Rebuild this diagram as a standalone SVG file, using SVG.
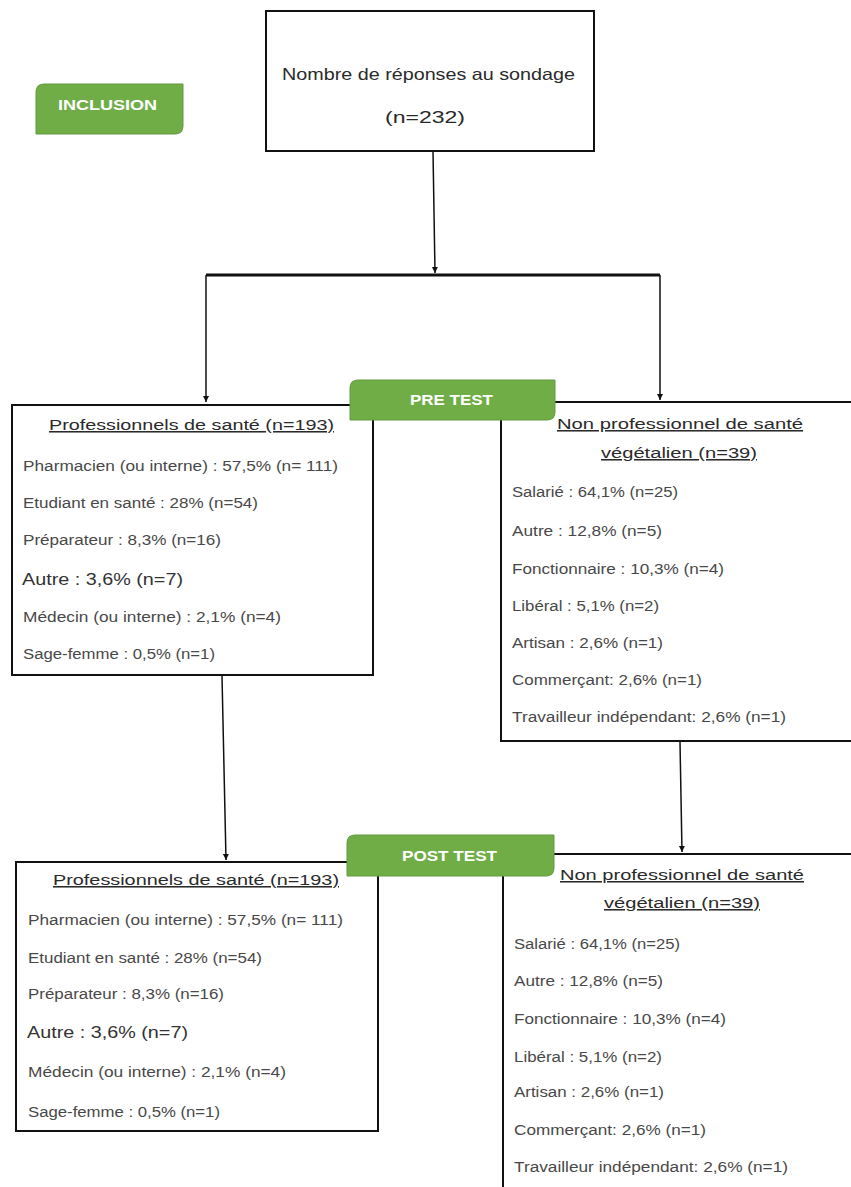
<svg xmlns="http://www.w3.org/2000/svg" width="851" height="1187" viewBox="0 0 851 1187">
<style>
.box{fill:#fff;stroke:#111;stroke-width:2}
.badge{fill:#70AD47;stroke:#639a3e;stroke-width:1}
.bt{font-family:"Liberation Sans",Arial,sans-serif;font-weight:bold;fill:#fff;font-size:14.5px}
.tt{font-family:"Liberation Sans",Arial,sans-serif;fill:#2a2a2a;font-size:16.5px}
.hd{font-family:"Liberation Sans",Arial,sans-serif;fill:#2a2a2a;font-size:15.5px;text-decoration:underline}
.it{font-family:"Liberation Sans",Arial,sans-serif;fill:#484848;font-size:14px}
.big{font-size:16.5px;fill:#333}
.ln{fill:none;stroke:#111;stroke-width:1.5}
</style>
<defs>
<marker id="ah" markerWidth="8" markerHeight="8" refX="6" refY="4" orient="auto" markerUnits="userSpaceOnUse">
<path d="M0,1 L6,4 L0,7 Z" fill="#111"/>
</marker>
</defs>
<rect width="851" height="1187" fill="#fff"/>

<g id="connectors">
<line class="ln" x1="433" y1="151" x2="435" y2="273" marker-end="url(#ah)"/>
<line x1="206" y1="275" x2="660" y2="275" stroke="#111" stroke-width="3"/>
<line class="ln" x1="206" y1="275" x2="206" y2="402" marker-end="url(#ah)"/>
<line class="ln" x1="660" y1="275" x2="660" y2="400" marker-end="url(#ah)"/>
<line class="ln" x1="222" y1="676" x2="226" y2="860" marker-end="url(#ah)"/>
<line class="ln" x1="680" y1="742" x2="682" y2="852" marker-end="url(#ah)"/>
</g>

<g id="inclusion">
<path class="badge" d="M44,84 H183 V126 Q183,134 175,134 H36 V92 Q36,84 44,84 Z"/>
<text class="bt" x="58" y="110" textLength="99" lengthAdjust="spacingAndGlyphs">INCLUSION</text>
</g>

<g id="total">
<rect class="box" x="266" y="11" width="328" height="140"/>
<text class="tt" x="282" y="80" textLength="293" lengthAdjust="spacingAndGlyphs">Nombre de réponses au sondage</text>
<text class="tt" x="385" y="123" textLength="80" lengthAdjust="spacingAndGlyphs">(n=232)</text>
</g>

<g id="pre-pro">
<rect class="box" x="12" y="405" width="361" height="270"/>
<text class="hd" x="49" y="430" textLength="285" lengthAdjust="spacingAndGlyphs">Professionnels de santé (n=193)</text>
<text class="it" x="23" y="471" textLength="315" lengthAdjust="spacingAndGlyphs">Pharmacien (ou interne) : 57,5% (n= 111)</text>
<text class="it" x="23" y="508" textLength="235" lengthAdjust="spacingAndGlyphs">Etudiant en santé : 28% (n=54)</text>
<text class="it" x="23" y="545" textLength="198" lengthAdjust="spacingAndGlyphs">Préparateur : 8,3% (n=16)</text>
<text class="it big" x="22" y="585" textLength="161" lengthAdjust="spacingAndGlyphs">Autre : 3,6% (n=7)</text>
<text class="it" x="23" y="622" textLength="258" lengthAdjust="spacingAndGlyphs">Médecin (ou interne) : 2,1% (n=4)</text>
<text class="it" x="23" y="659" textLength="192" lengthAdjust="spacingAndGlyphs">Sage-femme : 0,5% (n=1)</text>
</g>

<g id="pre-nonpro">
<rect class="box" x="501" y="402" width="360" height="339"/>
<text class="hd" x="557" y="429" textLength="246" lengthAdjust="spacingAndGlyphs">Non professionnel de santé</text>
<text class="hd" x="601" y="458" textLength="156" lengthAdjust="spacingAndGlyphs">végétalien (n=39)</text>
<text class="it" x="512" y="497" textLength="166" lengthAdjust="spacingAndGlyphs">Salarié : 64,1% (n=25)</text>
<text class="it" x="512" y="536" textLength="150" lengthAdjust="spacingAndGlyphs">Autre : 12,8% (n=5)</text>
<text class="it" x="512" y="574" textLength="212" lengthAdjust="spacingAndGlyphs">Fonctionnaire : 10,3% (n=4)</text>
<text class="it" x="512" y="611" textLength="147" lengthAdjust="spacingAndGlyphs">Libéral : 5,1% (n=2)</text>
<text class="it" x="512" y="648" textLength="151" lengthAdjust="spacingAndGlyphs">Artisan : 2,6% (n=1)</text>
<text class="it" x="512" y="685" textLength="190" lengthAdjust="spacingAndGlyphs">Commerçant: 2,6% (n=1)</text>
<text class="it" x="512" y="722" textLength="274" lengthAdjust="spacingAndGlyphs">Travailleur indépendant: 2,6% (n=1)</text>
</g>

<g id="pretest">
<path class="badge" d="M358,380 H555 V412 Q555,420 547,420 H350 V388 Q350,380 358,380 Z"/>
<text class="bt" x="410" y="405" textLength="83" lengthAdjust="spacingAndGlyphs">PRE TEST</text>
</g>

<g id="post-pro">
<rect class="box" x="16" y="862" width="362" height="269"/>
<text class="hd" x="53" y="885" textLength="286" lengthAdjust="spacingAndGlyphs">Professionnels de santé (n=193)</text>
<text class="it" x="28" y="925" textLength="315" lengthAdjust="spacingAndGlyphs">Pharmacien (ou interne) : 57,5% (n= 111)</text>
<text class="it" x="28" y="963" textLength="234" lengthAdjust="spacingAndGlyphs">Etudiant en santé : 28% (n=54)</text>
<text class="it" x="28" y="999" textLength="196" lengthAdjust="spacingAndGlyphs">Préparateur : 8,3% (n=16)</text>
<text class="it big" x="27" y="1038" textLength="161" lengthAdjust="spacingAndGlyphs">Autre : 3,6% (n=7)</text>
<text class="it" x="28" y="1077" textLength="258" lengthAdjust="spacingAndGlyphs">Médecin (ou interne) : 2,1% (n=4)</text>
<text class="it" x="28" y="1117" textLength="192" lengthAdjust="spacingAndGlyphs">Sage-femme : 0,5% (n=1)</text>
</g>

<g id="post-nonpro">
<rect class="box" x="503" y="854" width="360" height="350"/>
<text class="hd" x="560" y="880" textLength="244" lengthAdjust="spacingAndGlyphs">Non professionnel de santé</text>
<text class="hd" x="604" y="908" textLength="156" lengthAdjust="spacingAndGlyphs">végétalien (n=39)</text>
<text class="it" x="514" y="949" textLength="166" lengthAdjust="spacingAndGlyphs">Salarié : 64,1% (n=25)</text>
<text class="it" x="514" y="986" textLength="149" lengthAdjust="spacingAndGlyphs">Autre : 12,8% (n=5)</text>
<text class="it" x="514" y="1024" textLength="212" lengthAdjust="spacingAndGlyphs">Fonctionnaire : 10,3% (n=4)</text>
<text class="it" x="514" y="1062" textLength="148" lengthAdjust="spacingAndGlyphs">Libéral : 5,1% (n=2)</text>
<text class="it" x="514" y="1097" textLength="150" lengthAdjust="spacingAndGlyphs">Artisan : 2,6% (n=1)</text>
<text class="it" x="514" y="1135" textLength="192" lengthAdjust="spacingAndGlyphs">Commerçant: 2,6% (n=1)</text>
<text class="it" x="514" y="1172" textLength="274" lengthAdjust="spacingAndGlyphs">Travailleur indépendant: 2,6% (n=1)</text>
</g>

<g id="posttest">
<path class="badge" d="M355,835 H554 V868 Q554,876 546,876 H347 V843 Q347,835 355,835 Z"/>
<text class="bt" x="402" y="861" textLength="95" lengthAdjust="spacingAndGlyphs">POST TEST</text>
</g>
</svg>
